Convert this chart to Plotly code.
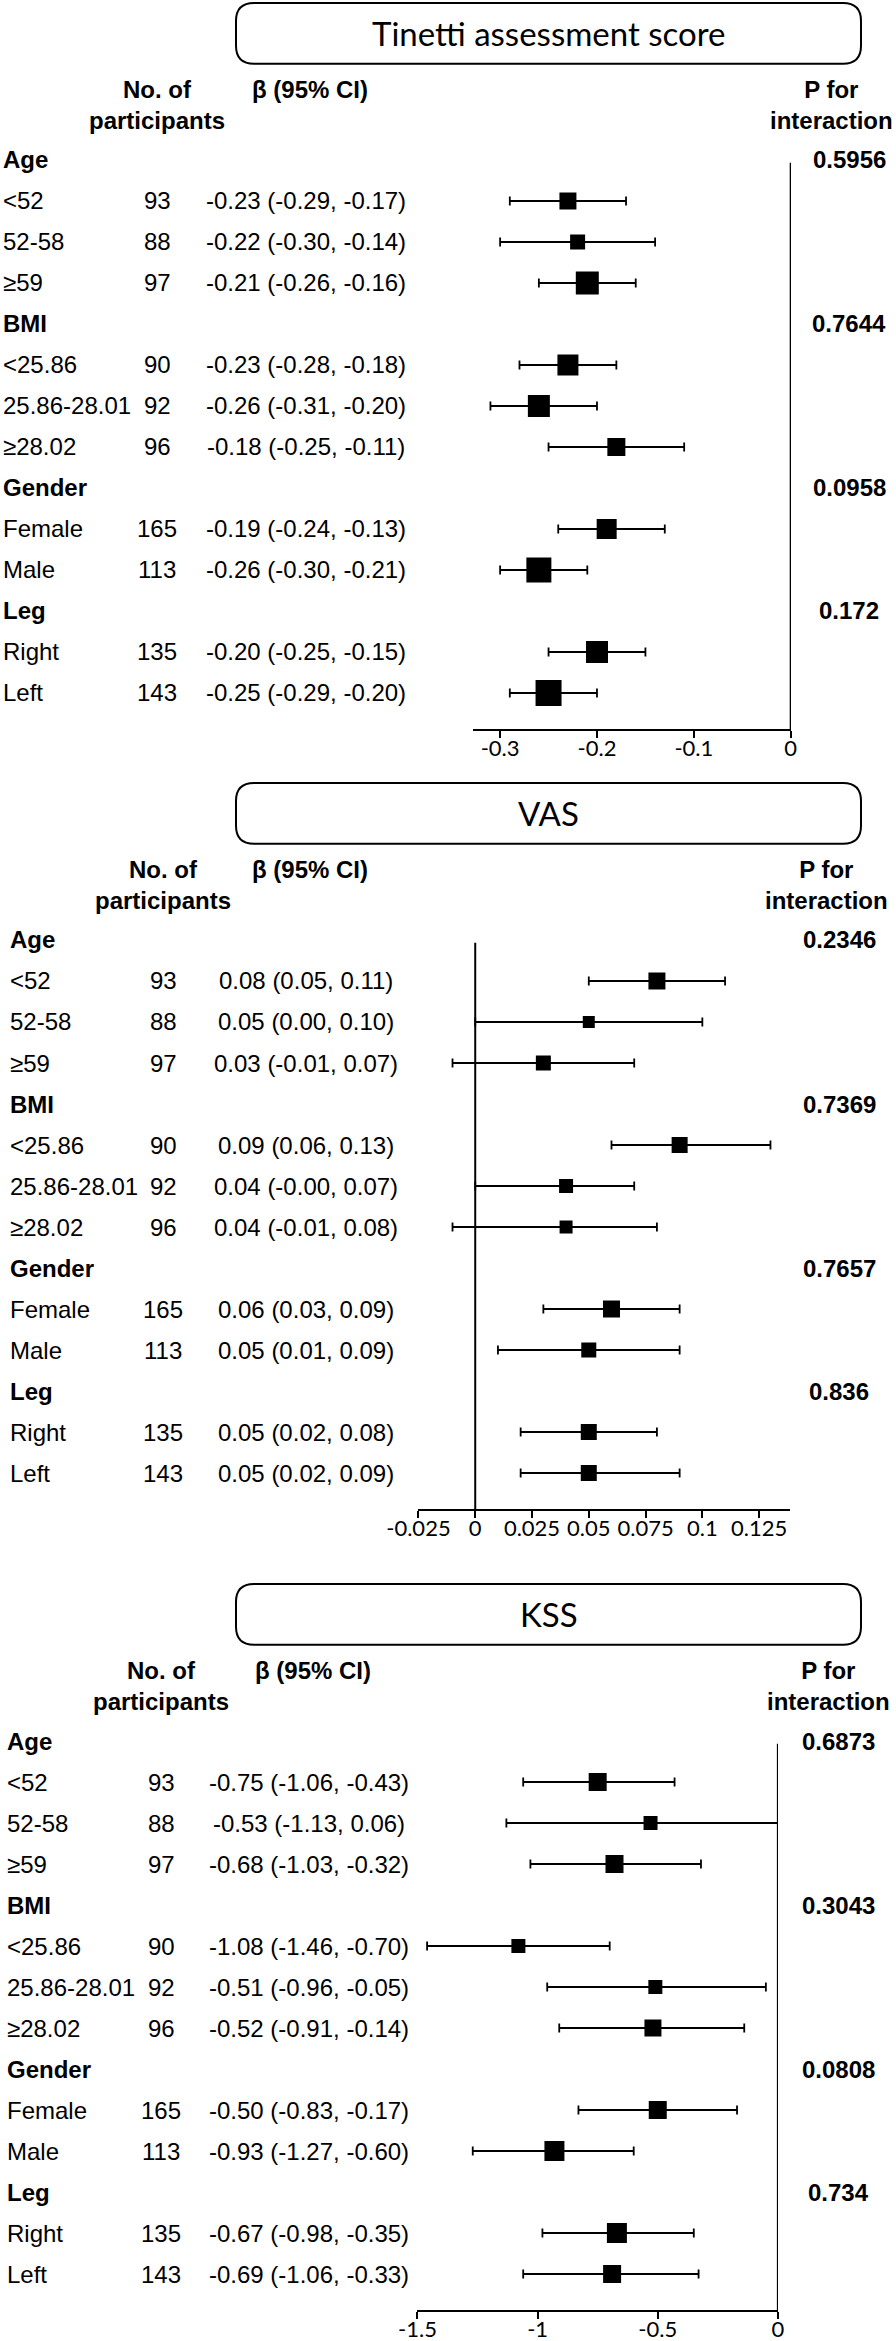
import plotly.graph_objects as go

W, H = 896, 2341

# ---- data ----
groups = ["Age", "BMI", "Gender", "Leg"]
subgroups = [["<52", "52-58", "≥59"],
             ["<25.86", "25.86-28.01", "≥28.02"],
             ["Female", "Male"],
             ["Right", "Left"]]
n_participants = [93, 88, 97, 90, 92, 96, 165, 113, 135, 143]

tinetti_beta = [-0.23, -0.22, -0.21, -0.23, -0.26, -0.18, -0.19, -0.26, -0.20, -0.25]
tinetti_lo = [-0.29, -0.30, -0.26, -0.28, -0.31, -0.25, -0.24, -0.30, -0.25, -0.29]
tinetti_hi = [-0.17, -0.14, -0.16, -0.18, -0.20, -0.11, -0.13, -0.21, -0.15, -0.20]
tinetti_weight = [17, 15, 23, 21, 22, 18, 20, 25, 22, 26]
tinetti_p = ["0.5956", "0.7644", "0.0958", "0.172"]

vas_beta = [0.08, 0.05, 0.03, 0.09, 0.04, 0.04, 0.06, 0.05, 0.05, 0.05]
vas_lo = [0.05, 0.00, -0.01, 0.06, -0.00, -0.01, 0.03, 0.01, 0.02, 0.02]
vas_hi = [0.11, 0.10, 0.07, 0.13, 0.07, 0.08, 0.09, 0.09, 0.08, 0.09]
vas_weight = [17, 12, 15, 16, 14, 13, 17, 15, 16, 16]
vas_p = ["0.2346", "0.7369", "0.7657", "0.836"]

kss_beta = [-0.75, -0.53, -0.68, -1.08, -0.51, -0.52, -0.50, -0.93, -0.67, -0.69]
kss_lo = [-1.06, -1.13, -1.03, -1.46, -0.96, -0.91, -0.83, -1.27, -0.98, -1.06]
kss_hi = [-0.43, 0.06, -0.32, -0.70, -0.05, -0.14, -0.17, -0.60, -0.35, -0.33]
kss_weight = [18, 14, 18, 14, 14, 17, 18, 20, 20, 18]
kss_p = ["0.6873", "0.3043", "0.0808", "0.734"]

tinetti_ticks = [-0.3, -0.2, -0.1, 0]
tinetti_ticktext = ["-0.3", "-0.2", "-0.1", "0"]
vas_ticks = [-0.025, 0, 0.025, 0.05, 0.075, 0.1, 0.125]
vas_ticktext = ["-0.025", "0", "0.025", "0.05", "0.075", "0.1", "0.125"]
kss_ticks = [-1.5, -1, -0.5, 0]
kss_ticktext = ["-1.5", "-1", "-0.5", "0"]

# ---- layout settings ----
BODY = "Liberation Sans, Arial, sans-serif"
ALT = "Lato, Calibri, sans-serif"
ROW = 41.0          # px per row
Y_BOT, Y_TOP = 13.878, -3.9

panels = [
    dict(title="Tinetti assessment score", beta=tinetti_beta, lo=tinetti_lo, hi=tinetti_hi,
         w=tinetti_weight, p=tinetti_p, ticks=tinetti_ticks, ticktext=tinetti_ticktext,
         top=160, xpx=(473, 791), xr=(-0.328, 0.0003),
         lab_x=1, n_x=157, b_x=306, p_x=849, ph_x=831),
    dict(title="VAS", beta=vas_beta, lo=vas_lo, hi=vas_hi,
         w=vas_weight, p=vas_p, ticks=vas_ticks, ticktext=vas_ticktext,
         top=940, xpx=(418, 790), xr=(-0.0252, 0.1386),
         lab_x=8, n_x=163, b_x=306, p_x=839, ph_x=826),
    dict(title="KSS", beta=kss_beta, lo=kss_lo, hi=kss_hi,
         w=kss_weight, p=kss_p, ticks=kss_ticks, ticktext=kss_ticktext,
         top=1741, xpx=(417, 778), xr=(-1.502, 0.0005),
         lab_x=5, n_x=161, b_x=309, p_x=838, ph_x=828),
]

fig = go.Figure()
annotations = []
shapes = []


def txt(x, y, yref, text, anchor="left", size=24, family=BODY):
    return dict(x=x / W, y=y, xref="paper", yref=yref, text=text, showarrow=False,
                xanchor=anchor, yanchor="middle", align="center",
                font=dict(family=family, size=size, color="black"))


for k, pn in enumerate(panels, start=1):
    sfx = "" if k == 1 else str(k)
    xa, ya = "x" + sfx, "y" + sfx

    # row indices: header row for each group then its subgroups
    sub_rows, sub_labels, head_rows = [], [], []
    r = 0
    for g, subs in zip(groups, subgroups):
        head_rows.append(r)
        annotations.append(txt(pn["lab_x"], r, ya, f"<b>{g}</b>"))
        r += 1
        for s in subs:
            sub_rows.append(r)
            sub_labels.append(s)
            r += 1

    for i, row in enumerate(sub_rows):
        b, lo, hi = pn["beta"][i], pn["lo"][i], pn["hi"][i]
        annotations.append(txt(pn["lab_x"], row, ya, sub_labels[i]))
        annotations.append(txt(pn["n_x"], row, ya, str(n_participants[i]), "center"))
        annotations.append(txt(pn["b_x"], row, ya, f"{b:.2f} ({lo:.2f}, {hi:.2f})", "center"))

    for j, row in enumerate(head_rows):
        annotations.append(txt(pn["p_x"], row, ya, f"<b>{pn['p'][j]}</b>", "center"))

    # column headers
    annotations.append(txt(pn["n_x"], -1.34, ya, "<b>No. of</b><br><b>participants</b>", "center"))
    annotations.append(txt(pn["b_x"] + 4, -1.71, ya, "<b>β (95% CI)</b>", "center"))
    annotations.append(txt(pn["ph_x"], -1.34, ya, "<b>P for</b><br><b>interaction</b>", "center"))

    # title box
    x0, x1 = 236 / W, 861 / W
    yt, yb = -3.83, -2.35
    rx, ry = 18 / W, 18 / ROW
    path = (f"M {x0+rx},{yt} L {x1-rx},{yt} Q {x1},{yt} {x1},{yt+ry} L {x1},{yb-ry} "
            f"Q {x1},{yb} {x1-rx},{yb} L {x0+rx},{yb} Q {x0},{yb} {x0},{yb-ry} "
            f"L {x0},{yt+ry} Q {x0},{yt} {x0+rx},{yt} Z")
    shapes.append(dict(type="path", path=path, xref="paper", yref=ya,
                       line=dict(color="black", width=2), fillcolor="white", layer="below"))
    annotations.append(txt(548.5, -3.10, ya, pn["title"], "center", size=33, family=ALT))

    # zero line
    shapes.append(dict(type="line", xref=xa, yref=ya, x0=0, x1=0, y0=0.07, y1=Y_BOT,
                       line=dict(color="black", width=2)))

    # estimates with CI
    fig.add_trace(go.Scatter(
        x=pn["beta"], y=sub_rows, xaxis=xa, yaxis=ya, mode="markers",
        marker=dict(symbol="square", size=pn["w"], color="black", opacity=1, line=dict(width=0)),
        error_x=dict(type="data", symmetric=False,
                     array=[h - b for h, b in zip(pn["hi"], pn["beta"])],
                     arrayminus=[b - l for b, l in zip(pn["beta"], pn["lo"])],
                     color="black", thickness=1.8, width=4.5),
        cliponaxis=False, showlegend=False, hoverinfo="skip"))

    top_px = pn["top"] + Y_TOP * ROW
    bot_px = pn["top"] + Y_BOT * ROW
    xaxis = dict(domain=[pn["xpx"][0] / W, pn["xpx"][1] / W], range=list(pn["xr"]), anchor=ya,
                 automargin=False,
                 showline=True, linecolor="black", linewidth=2.5, showgrid=False, zeroline=False,
                 ticks="outside", ticklen=7, tickwidth=2, tickcolor="black",
                 tickmode="array", tickvals=pn["ticks"], ticktext=pn["ticktext"],
                 ticklabelstandoff=-9,
                 tickfont=dict(family=ALT, size=22, color="black"), fixedrange=True)
    yaxis = dict(domain=[1 - bot_px / H, min(1.0, 1 - top_px / H)], range=[Y_BOT, Y_TOP], anchor=xa,
                 automargin=False,
                 visible=False, showgrid=False, zeroline=False, fixedrange=True)
    fig.update_layout({"xaxis" + sfx: xaxis, "yaxis" + sfx: yaxis})

fig.update_layout(
    template="none",
    width=W, height=H,
    margin=dict(l=0, r=0, t=0, b=0, pad=0),
    paper_bgcolor="white", plot_bgcolor="white",
    showlegend=False,
    annotations=annotations,
    shapes=shapes,
)

fig.write_html("out.html", config={"displayModeBar": False, "staticPlot": True},
               post_script="document.body.style.margin='0';document.body.style.overflow='hidden';")
